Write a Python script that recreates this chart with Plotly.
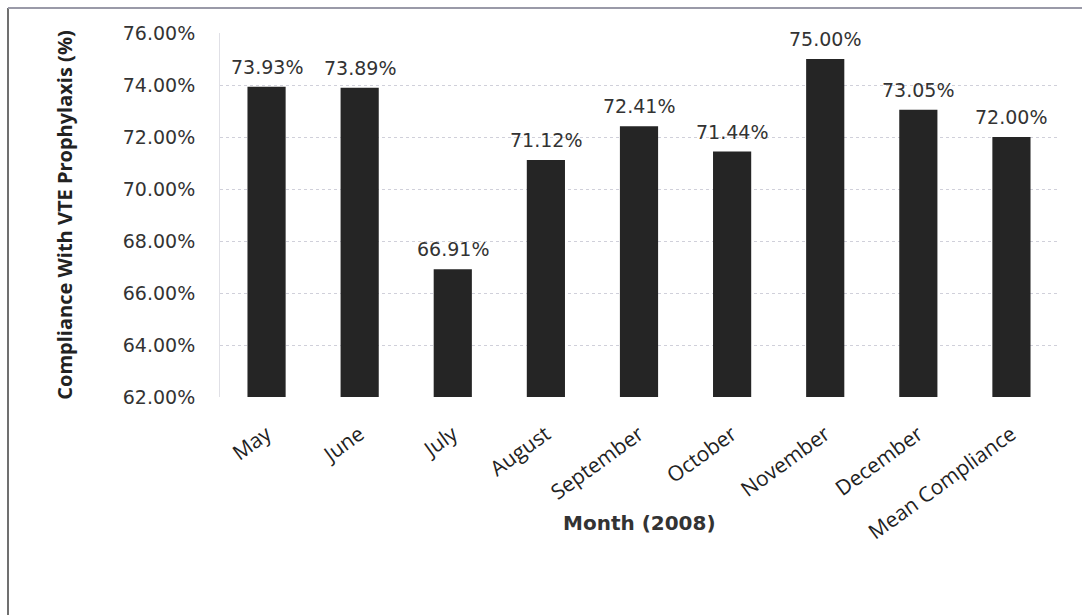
import plotly.graph_objects as go

months = ["May", "June", "July", "August", "September", "October", "November", "December", "Mean Compliance"]
compliance = [73.93, 73.89, 66.91, 71.12, 72.41, 71.44, 75.00, 73.05, 72.00]
y_ticks = [62, 64, 66, 68, 70, 72, 74, 76]
y_tick_labels = ["62.00%", "64.00%", "66.00%", "68.00%", "70.00%", "72.00%", "74.00%", "76.00%"]

W, H = 1082, 615
L, R, T, B = 220, 24, 33, 218
pw, ph = W - L - R, H - T - B

def px_x(p):
    return (p - L) / pw

def px_y(p):
    return (H - B - p) / ph

fig = go.Figure()
fig.add_trace(go.Bar(
    x=months, y=compliance,
    marker=dict(color="#252525", line=dict(width=0)),
    hoverinfo="x+y",
))

for m, v in zip(months, compliance):
    fig.add_annotation(
        x=m, y=v, xref="x", yref="y",
        text=f"{v:.2f}%", showarrow=False,
        yanchor="bottom", yshift=7,
        font=dict(family="DejaVu Sans, Verdana, sans-serif", size=19, color="#333333"),
    )

fig.update_layout(
    width=W, height=H,
    margin=dict(l=L, r=R, t=T, b=B),
    paper_bgcolor="white", plot_bgcolor="white",
    bargap=0.59,
    showlegend=False,
    yaxis=dict(
        range=[62, 76],
        tickvals=y_ticks, ticktext=y_tick_labels,
        tickfont=dict(family="DejaVu Sans, Verdana, sans-serif", size=19, color="#333333"),
        ticklabelstandoff=20,
        showgrid=True, gridcolor="#d0d0da", griddash="dot", gridwidth=1,
        showline=True, linecolor="#e0e0e6", linewidth=1,
        zeroline=False, ticks="", ticklen=0,
        title=dict(text="<b>Compliance With VTE Prophylaxis (%)</b>",
                   font=dict(family="Liberation Sans Narrow, Open Sans, sans-serif", size=20, color="#222222"),
                   standoff=44),
    ),
    xaxis=dict(
        tickangle=-36,
        tickfont=dict(family="Open Sans, sans-serif", size=21, color="#222222"),
        ticklabelstandoff=20,
        showline=False, showgrid=False, ticks="",
    ),
)

fig.add_annotation(
    x=0.5, y=px_y(523), xref="paper", yref="paper",
    text="<b>Month (2008)</b>", showarrow=False,
    xanchor="center", yanchor="middle",
    font=dict(family="DejaVu Sans, Verdana, sans-serif", size=20, color="#333333"),
)

left, top = px_x(8), px_y(8)
fig.add_shape(type="line", xref="paper", yref="paper", x0=left, x1=left, y0=top, y1=px_y(615),
              line=dict(color="#707070", width=2))
fig.add_shape(type="line", xref="paper", yref="paper", x0=left, x1=px_x(1082), y0=top, y1=top,
              line=dict(color="#9a9aa8", width=2))

fig.write_html("out.html")
